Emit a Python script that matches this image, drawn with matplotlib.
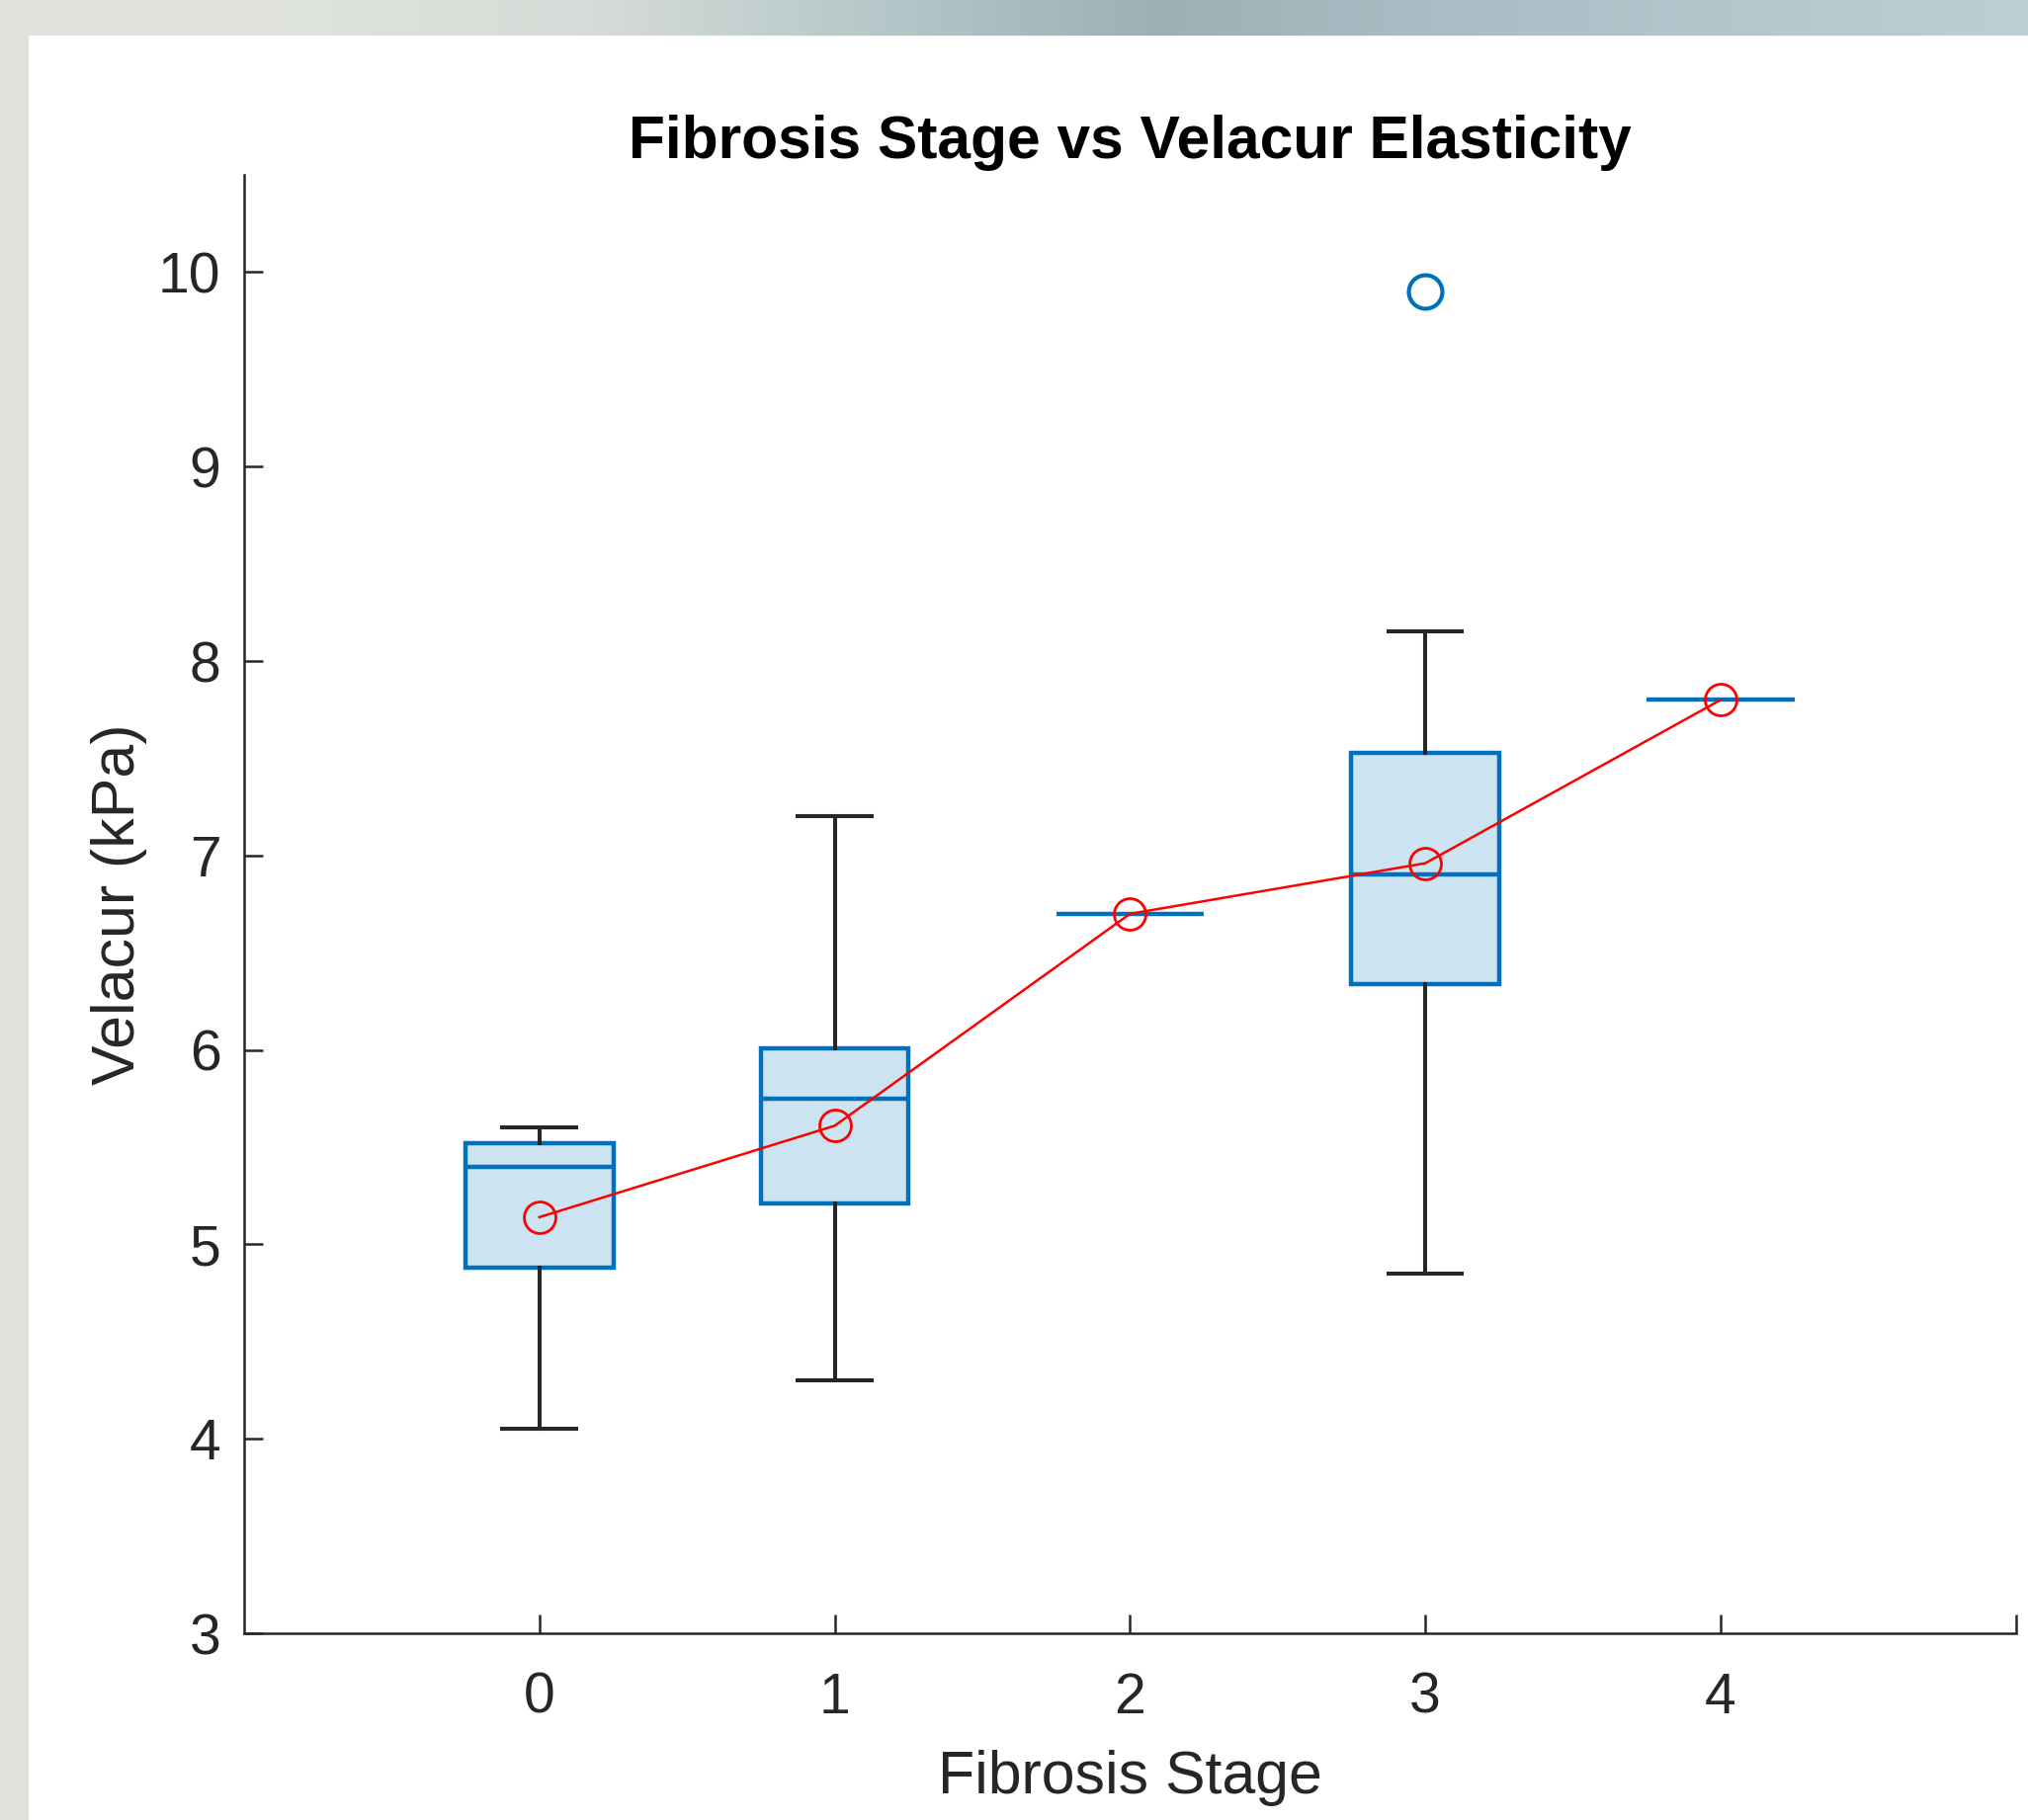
import numpy as np
import matplotlib
matplotlib.use("Agg")
import matplotlib.pyplot as plt
from matplotlib.colors import LinearSegmentedColormap

plt.rcParams["font.family"] = ["Liberation Sans", "DejaVu Sans"]

stages = [0, 1, 2, 3, 4]
whisker_low = [4.05, 4.30, 6.70, 4.85, 7.80]
q1 = [4.88, 5.21, 6.70, 6.34, 7.80]
median = [5.40, 5.75, 6.70, 6.90, 7.80]
q3 = [5.52, 6.01, 6.70, 7.53, 7.80]
whisker_high = [5.60, 7.20, 6.70, 8.15, 7.80]
outliers = [[], [], [], [9.90], []]
means = [5.14, 5.61, 6.70, 6.96, 7.80]
tick_labels = ["0", "1", "2", "3", "4", ""]

blue = "#0072BD"
fill = "#CCE3F1"
ink = "#262626"

fig = plt.figure(figsize=(10.26, 9.21), dpi=200)

# screenshot frame: gradient strip on top, grey strip on the left
bg = fig.add_axes([0, 0, 1, 1], zorder=-10)
bg.set_axis_off()
grad = LinearSegmentedColormap.from_list(
    "strip", ["#e0e2de", "#dfe3dd", "#d8dcd8", "#b6c8ca", "#9bb1b6", "#a9bfc5", "#b3c7cd", "#bccfd5"])
bg.imshow(np.linspace(0, 1, 256)[None, :], cmap=grad, aspect="auto",
          extent=[0, 1, 0.98, 1], transform=bg.transAxes)
bg.add_patch(plt.Rectangle((0, 0), 0.0146, 0.98, color="#dfe1dc", transform=bg.transAxes))
bg.add_patch(plt.Rectangle((0.0146, 0), 1, 0.98, color="white", transform=bg.transAxes))
bg.set_xlim(0, 1)
bg.set_ylim(0, 1)

ax = fig.add_axes([0.1204, 0.1026, 0.8736, 0.8013])
ax.patch.set_alpha(0)

stats = []
for i in range(len(stages)):
    stats.append({"whislo": whisker_low[i], "q1": q1[i], "med": median[i],
                  "q3": q3[i], "whishi": whisker_high[i], "fliers": outliers[i]})

parts = ax.bxp(stats, positions=stages, widths=0.5, capwidths=0.25,
               patch_artist=True, manage_ticks=False,
               boxprops=dict(facecolor=fill, edgecolor=blue, linewidth=1.6),
               medianprops=dict(color=blue, linewidth=1.6),
               whiskerprops=dict(color=ink, linewidth=1.45),
               capprops=dict(color=ink, linewidth=1.45),
               flierprops=dict(marker="o", markerfacecolor="none",
                               markeredgecolor=blue, markersize=12.2,
                               markeredgewidth=1.5))

# single-value groups show only the median line
for i in range(len(stages)):
    if q1[i] == q3[i]:
        parts["caps"][2 * i].set_visible(False)
        parts["caps"][2 * i + 1].set_visible(False)
        parts["whiskers"][2 * i].set_visible(False)
        parts["whiskers"][2 * i + 1].set_visible(False)
        parts["boxes"][i].set_visible(False)

ax.plot(stages, means, color="red", linewidth=0.9, marker="o",
        markerfacecolor="none", markeredgecolor="red", markersize=11.5,
        markeredgewidth=1.0, zorder=5)

ax.set_xlim(-1, 5)
ax.set_ylim(3, 10.5)
ax.set_xticks([0, 1, 2, 3, 4, 5])
ax.set_xticklabels(tick_labels)
ax.set_yticks(range(3, 11))

for s in ["top", "right"]:
    ax.spines[s].set_visible(False)
for s in ["left", "bottom"]:
    ax.spines[s].set_color(ink)
    ax.spines[s].set_linewidth(0.9)

ax.tick_params(direction="in", length=7, width=0.9, colors=ink, labelsize=20.5)
ax.tick_params(axis="x", pad=14)
ax.tick_params(axis="y", pad=8.5)

ax.set_xlabel("Fibrosis Stage", fontsize=21.9, color=ink, labelpad=9)
ax.set_ylabel("Velacur (kPa)", fontsize=21.9, color=ink, labelpad=4)
ax.set_title("Fibrosis Stage vs Velacur Elasticity", fontsize=21.8,
             fontweight="bold", color="black", pad=6)

fig.savefig("out.png", dpi=200)
